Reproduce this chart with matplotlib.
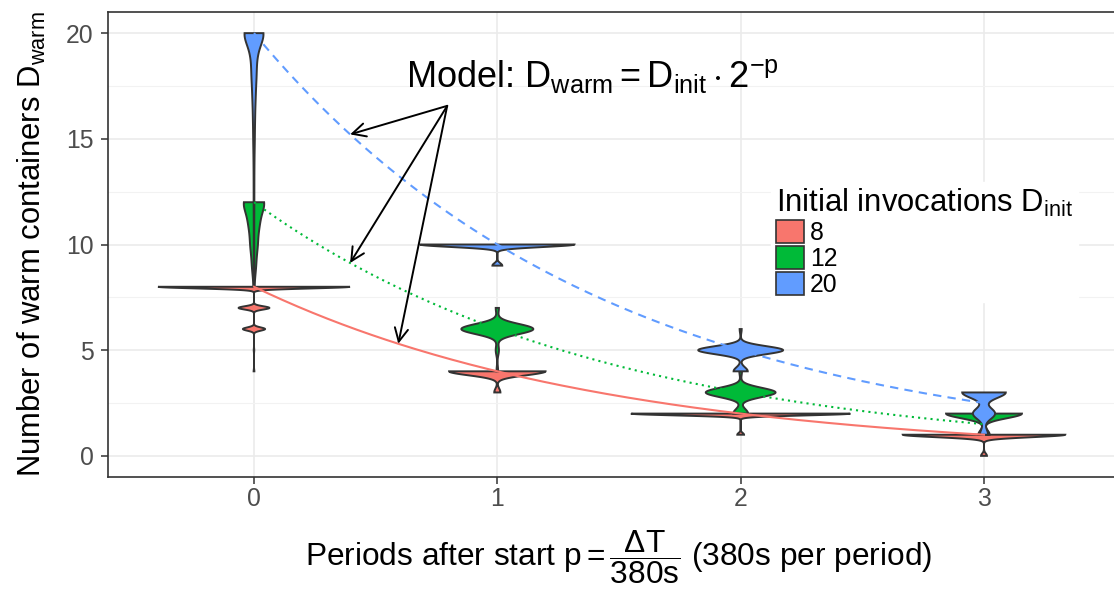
import numpy as np
import matplotlib.pyplot as plt
from matplotlib.patches import Patch

plt.rcParams['font.family'] = ['Liberation Sans', 'DejaVu Sans']
plt.rcParams['mathtext.fontset'] = 'custom'
plt.rcParams['mathtext.rm'] = 'Liberation Sans'
plt.rcParams['mathtext.it'] = 'Liberation Sans'
plt.rcParams['mathtext.default'] = 'rm'

periods = [0, 1, 2, 3]
d_init = [8, 12, 20]
colors = ['#F8766D', '#00BA38', '#619CFF']
model_styles = ['-', (0, (1, 2)), (0, (4, 3))]

# warm containers observed, {value: number of samples}, one dict per period
warm_8 = [{8: 780, 7: 125, 6: 90, 5: 2, 4: 3},
          {4: 94, 3: 6},
          {2: 97, 1: 3},
          {1: 965, 0: 35}]
warm_12 = [{12: 490, 11: 230, 10: 160, 9: 90, 8: 20},
           {7: 4, 6: 90, 5: 4, 4: 2},
           {4: 3, 3: 80, 2: 17},
           {2: 87, 1: 13}]
warm_20 = [{20: 510, 19: 130, 18: 110, 17: 70, 16: 45, 15: 35, 14: 20,
            13: 15, 12: 15, 11: 10, 10: 10, 9: 10, 8: 10},
           {10: 94, 9: 6},
           {6: 2, 5: 84, 4: 14},
           {3: 59, 2: 30, 1: 11}]
warm_counts = [warm_8, warm_12, warm_20]

# kernel bandwidth of each violin (same layout as warm_counts)
kde_bw = [[0.078, 0.187, 0.085, 0.114],
          [0.5, 0.24, 0.22, 0.22],
          [0.55, 0.117, 0.19, 0.26]]


def violin_density(counts, bw, n=512):
    vals = np.array(list(counts.keys()), dtype=float)
    w = np.array(list(counts.values()), dtype=float)
    w /= w.sum()
    # trimmed to the observed range, like geom_violin(trim = TRUE)
    grid = np.linspace(vals.min(), vals.max(), n)
    k = np.exp(-0.5 * ((grid[:, None] - vals[None, :]) / bw) ** 2)
    dens = (k * w).sum(axis=1) / (bw * np.sqrt(2 * np.pi))
    return grid, dens


fig = plt.figure(figsize=(11.14, 5.93), dpi=100)
ax = fig.add_axes([108 / 1114, 116 / 593, 1022 / 1114, 465 / 593])

shapes = []
for g, series in enumerate(warm_counts):
    for i, counts in enumerate(series):
        grid, dens = violin_density(counts, kde_bw[g][i])
        shapes.append((g, periods[i], grid, dens))
dmax = max(s[3].max() for s in shapes)  # scale = "area"

for g, p, grid, dens in shapes:
    half = dens / dmax * 0.45
    xs = np.concatenate([p - half, (p + half)[::-1]])
    ys = np.concatenate([grid, grid[::-1]])
    ax.fill(xs, ys, facecolor=colors[g], edgecolor='#333333', lw=1.4,
            zorder=3 + 0.1 * g)

# model curves D_warm = D_init * 2^-p
p_line = np.linspace(0, 3, 200)
for g, d in enumerate(d_init):
    ax.plot(p_line, d * 2.0 ** -p_line, color=colors[g], ls=model_styles[g],
            lw=1.5, zorder=4)

text_xy = (0.794, 16.56)
for p_at, d in [(0.395, 20), (0.395, 12), (0.593, 8)]:
    ax.annotate('', xy=(p_at, d * 2.0 ** -p_at), xytext=text_xy,
                arrowprops=dict(arrowstyle='->', color='black', lw=1.4,
                                mutation_scale=24, shrinkA=0, shrinkB=0),
                zorder=5)
ax.text(1.39, 17.95, r'Model: $\mathrm{D_{warm} = D_{init} \cdot 2^{-p}}$',
        fontsize=26, ha='center', va='center', zorder=5)

ax.set_xlim(-0.6, 3.6)
ax.set_ylim(-1, 21)
ax.set_xticks(periods)
ax.set_yticks([0, 5, 10, 15, 20])
ax.set_yticks([2.5, 7.5, 12.5, 17.5], minor=True)
ax.grid(True, which='major', color='#EBEBEB', lw=1.2, zorder=0)
ax.grid(True, which='minor', axis='y', color='#F2F2F2', lw=0.8, zorder=0)
ax.set_axisbelow(True)
ax.tick_params(which='minor', length=0)
ax.tick_params(which='major', length=4.7, width=1.1, color='#333333',
               labelsize=17.8, labelcolor='#4D4D4D')
ax.tick_params(axis='x', pad=2.5)
ax.tick_params(axis='y', pad=5.5)
for sp in ax.spines.values():
    sp.set_color('#333333')
    sp.set_linewidth(1.2)

ax.set_ylabel(r'Number of warm containers $\mathrm{D_{warm}}$', fontsize=22.3, labelpad=13)
ax.set_xlabel(r'Periods after start $\mathrm{p = \dfrac{\Delta T}{380s}}$ (380s per period)',
              fontsize=22.8, labelpad=12.5)

handles = [Patch(facecolor=c, edgecolor='#333333', lw=1.2) for c in colors]
leg = ax.legend(handles, [str(d) for d in d_init],
                title=r'Initial invocations $\mathrm{D_{init}}$',
                loc='upper left', bbox_to_anchor=(0.637, 0.662),
                fontsize=17.8, title_fontsize=22.3, frameon=True, fancybox=False,
                edgecolor='white', framealpha=1, handlelength=1.1,
                handleheight=1.05, labelspacing=0.05, handletextpad=0.25,
                borderpad=0.2, alignment='left')
leg.set_zorder(6)

fig.savefig('out.png', dpi=100)
